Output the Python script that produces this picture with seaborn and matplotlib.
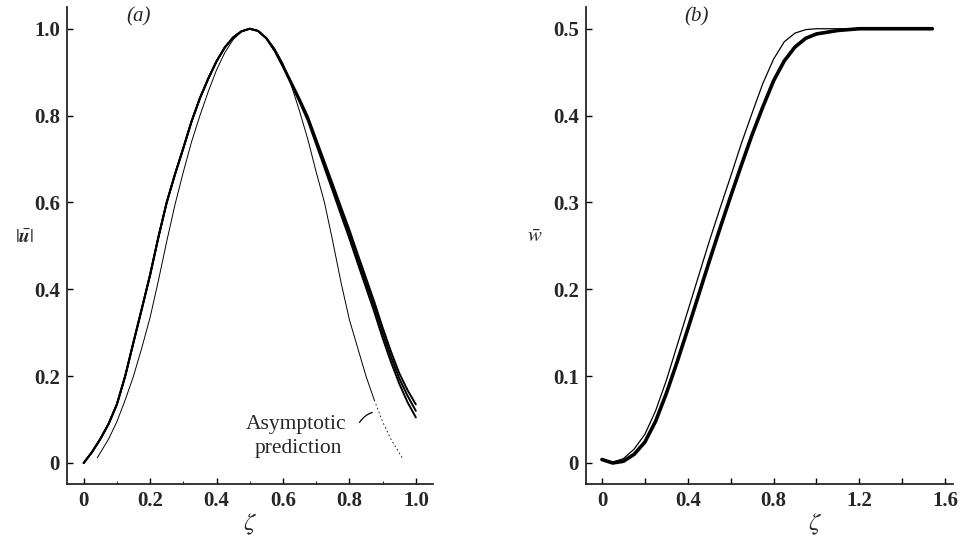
import matplotlib
matplotlib.use("Agg")
import matplotlib.pyplot as plt
import seaborn as sns
import pandas as pd

# panel (a): |u| profiles against zeta
zeta_a = [0.0, 0.025, 0.05, 0.075, 0.1, 0.125, 0.15, 0.175, 0.2, 0.225, 0.25,
          0.275, 0.3, 0.325, 0.35, 0.375, 0.4, 0.425, 0.45, 0.475, 0.5,
          0.525, 0.55, 0.575, 0.6, 0.625, 0.65, 0.675, 0.7, 0.725, 0.75,
          0.775, 0.8, 0.825, 0.85, 0.875, 0.9, 0.925, 0.95, 0.975, 1.0]
u_upper = [0.0, 0.025, 0.055, 0.09, 0.135, 0.2, 0.278, 0.355, 0.433, 0.52, 0.6,
           0.665, 0.725, 0.787, 0.84, 0.885, 0.925, 0.957, 0.98, 0.994, 1.0,
           0.995, 0.978, 0.951, 0.916, 0.878, 0.839, 0.798, 0.746, 0.694, 0.642,
           0.589, 0.537, 0.481, 0.426, 0.371, 0.312, 0.257, 0.207, 0.168, 0.135]
u_mid = [0.0, 0.025, 0.055, 0.09, 0.135, 0.2, 0.278, 0.355, 0.433, 0.52, 0.6,
         0.665, 0.725, 0.787, 0.84, 0.885, 0.925, 0.957, 0.98, 0.994, 1.0,
         0.995, 0.978, 0.95, 0.914, 0.875, 0.835, 0.793, 0.74, 0.687, 0.634,
         0.58, 0.527, 0.47, 0.415, 0.36, 0.3, 0.245, 0.195, 0.155, 0.12]
u_lower = [0.0, 0.025, 0.055, 0.09, 0.135, 0.2, 0.278, 0.355, 0.433, 0.52, 0.6,
           0.665, 0.725, 0.787, 0.84, 0.885, 0.925, 0.957, 0.98, 0.994, 1.0,
           0.995, 0.978, 0.949, 0.912, 0.872, 0.831, 0.788, 0.734, 0.68, 0.626,
           0.571, 0.517, 0.46, 0.404, 0.348, 0.288, 0.233, 0.183, 0.14, 0.105]

zeta_asym = [0.041, 0.075, 0.1, 0.125, 0.15, 0.175, 0.2, 0.225, 0.25, 0.275,
             0.3, 0.325, 0.35, 0.375, 0.4, 0.425, 0.45, 0.475, 0.5,
             0.525, 0.55, 0.575, 0.6, 0.625, 0.65, 0.675, 0.7, 0.725, 0.75,
             0.775, 0.8, 0.825, 0.85, 0.875, 0.9, 0.925, 0.959]
u_asym = [0.012, 0.055, 0.095, 0.145, 0.2, 0.265, 0.335, 0.42, 0.51, 0.595,
          0.67, 0.74, 0.8, 0.855, 0.905, 0.945, 0.975, 0.993, 1.0,
          0.995, 0.98, 0.955, 0.92, 0.87, 0.81, 0.745, 0.67, 0.6, 0.51,
          0.415, 0.33, 0.265, 0.2, 0.145, 0.095, 0.055, 0.012]

# panel (b): w profiles against zeta
zeta_b = [0.0, 0.05, 0.1, 0.15, 0.2, 0.25, 0.3, 0.35, 0.4, 0.45, 0.5, 0.55,
          0.6, 0.65, 0.7, 0.75, 0.8, 0.85, 0.9, 0.95, 1.0, 1.1, 1.2, 1.3,
          1.4, 1.54]
w_asym = [0.004, 0.001, 0.005, 0.016, 0.033, 0.06, 0.095, 0.135, 0.175, 0.215,
          0.255, 0.293, 0.33, 0.368, 0.403, 0.437, 0.465, 0.485, 0.495, 0.499,
          0.5, 0.5, 0.5, 0.5, 0.5, 0.5]
w_num = [0.004, 0.0, 0.002, 0.01, 0.024, 0.048, 0.08, 0.116, 0.154, 0.193,
         0.232, 0.27, 0.307, 0.343, 0.378, 0.41, 0.44, 0.463, 0.479, 0.489,
         0.494, 0.498, 0.5, 0.5, 0.5, 0.5]

sns.set_theme(style="ticks")
plt.rcParams["font.family"] = ["Liberation Serif", "DejaVu Serif"]
plt.rcParams["mathtext.fontset"] = "stix"

fig = plt.figure(figsize=(9.62, 5.4), dpi=100)
ax1 = fig.add_axes([0.0697, 0.104, 0.3805, 0.883])
ax2 = fig.add_axes([0.609, 0.104, 0.382, 0.883])

df_a = pd.DataFrame({"zeta": zeta_a, "upper": u_upper, "mid": u_mid, "lower": u_lower})
for col in ["upper", "mid", "lower"]:
    sns.lineplot(data=df_a, x="zeta", y=col, ax=ax1, color="black", lw=1.4,
                 estimator=None, sort=False)

df_asym = pd.DataFrame({"zeta": zeta_asym, "u": u_asym})
cut = 33
sns.lineplot(data=df_asym.iloc[:cut + 1], x="zeta", y="u", ax=ax1, color="black",
             lw=0.7, estimator=None, sort=False)
sns.lineplot(data=df_asym.iloc[cut:], x="zeta", y="u", ax=ax1, color="black",
             lw=0.6, ls=(0, (2, 3)), estimator=None, sort=False)

df_b = pd.DataFrame({"zeta": zeta_b, "asym": w_asym, "num": w_num})
sns.lineplot(data=df_b, x="zeta", y="asym", ax=ax2, color="black", lw=0.9,
             estimator=None, sort=False)
sns.lineplot(data=df_b, x="zeta", y="num", ax=ax2, color="black", lw=2.6,
             estimator=None, sort=False)

tick_font = dict(fontsize=15, fontweight="bold")

ax1.set_xlim(-0.05, 1.052)
ax1.set_ylim(-0.048, 1.05)
ax1.set_xticks([0, 0.2, 0.4, 0.6, 0.8, 1.0])
ax1.set_xticklabels(["0", "0.2", "0.4", "0.6", "0.8", "1.0"], **tick_font)
ax1.set_xticks([0.1, 0.3, 0.5, 0.7, 0.9], minor=True)
ax1.set_yticks([0, 0.2, 0.4, 0.6, 0.8, 1.0])
ax1.set_yticklabels(["0", "0.2", "0.4", "0.6", "0.8", "1.0"], **tick_font)

ax2.set_xlim(-0.075, 1.638)
ax2.set_ylim(-0.024, 0.525)
ax2.set_xticks([0, 0.2, 0.4, 0.6, 0.8, 1.0, 1.2, 1.4, 1.6])
ax2.set_xticklabels(["0", "", "0.4", "", "0.8", "", "1.2", "", "1.6"], **tick_font)
ax2.set_yticks([0, 0.1, 0.2, 0.3, 0.4, 0.5])
ax2.set_yticklabels(["0", "0.1", "0.2", "0.3", "0.4", "0.5"], **tick_font)

for ax in (ax1, ax2):
    sns.despine(ax=ax)
    ax.spines["left"].set_linewidth(1.3)
    ax.spines["bottom"].set_linewidth(1.3)
    ax.tick_params(direction="in", length=4, width=1, color="black", pad=5)
    ax.tick_params(which="minor", direction="in", length=2.5, width=0.8, bottom=True)
    ax.set_ylabel("")
    ax.set_xlabel(r"$\zeta$", fontsize=18)

ax1.xaxis.set_label_coords(0.5, -0.058)
ax2.xaxis.set_label_coords(0.624, -0.058)

fig.text(25 / 962, 1 - 238 / 540, r"$|\bar{\boldsymbol{u}}|$", fontsize=14,
         ha="center", va="center")
fig.text(535 / 962, 1 - 237 / 540, r"$\bar{w}$", fontsize=15,
         ha="center", va="center")

ax1.text(0.194, 0.98, "(a)", transform=ax1.transAxes, fontsize=15,
         fontstyle="italic", ha="center", va="center")
ax2.text(0.302, 0.98, "(b)", transform=ax2.transAxes, fontsize=15,
         fontstyle="italic", ha="center", va="center")

ax1.text(0.64, 0.088, "Asymptotic", fontsize=15.5, ha="center", va="center")
ax1.text(0.645, 0.033, "prediction", fontsize=15.5, ha="center", va="center")
ax1.annotate("", xy=(0.877, 0.118), xytext=(0.826, 0.088),
             arrowprops=dict(arrowstyle="-", lw=0.9, color="black",
                             connectionstyle="angle3,angleA=60,angleB=10"))

fig.savefig("out.png", dpi=100, facecolor="white")
